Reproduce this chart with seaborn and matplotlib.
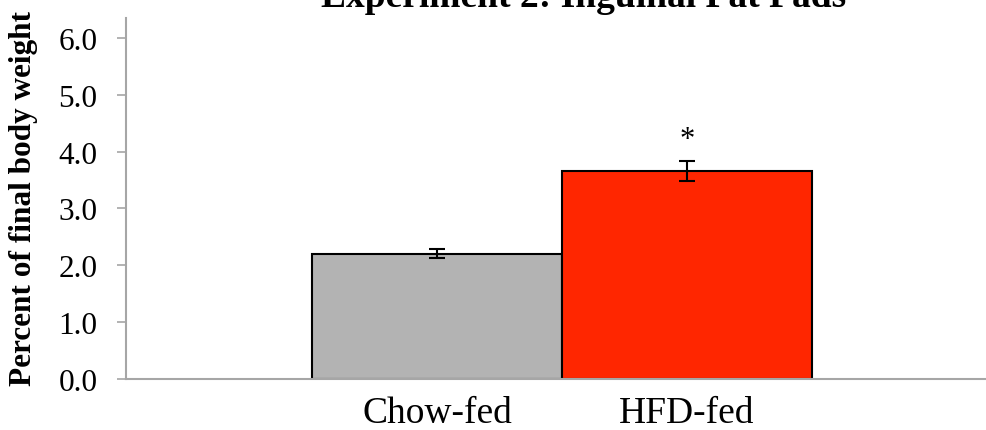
import matplotlib
matplotlib.use("Agg")
import matplotlib.pyplot as plt
import seaborn as sns

# data
groups = ["Chow-fed", "HFD-fed"]
means = [2.20, 3.66]
errors = [0.08, 0.17]
bar_colors = ["#b3b3b3", "#ff2600"]
star_labels = ["", "*"]
star_y = [0, 4.08]
yticks = [0, 1, 2, 3, 4, 5, 6]

sns.set_style("white")
plt.rcParams["font.family"] = ["Liberation Serif", "DejaVu Serif"]
plt.rcParams["text.color"] = "black"
plt.rcParams["axes.labelcolor"] = "black"
plt.rcParams["xtick.color"] = "black"
plt.rcParams["ytick.color"] = "black"

fig = plt.figure(figsize=(9.86, 4.31), dpi=100)
ax = fig.add_axes([0.1278, 0.1183, 0.8712, 0.8377])

sns.barplot(x=groups, y=means, hue=groups, palette=bar_colors, width=1.0,
            saturation=1, edgecolor="black", linewidth=1.5, legend=False, ax=ax)
ax.errorbar(x=range(len(groups)), y=means, yerr=errors, fmt="none",
            ecolor="black", elinewidth=1.5, capsize=6, capthick=1.5)

for i, (lab, yy) in enumerate(zip(star_labels, star_y)):
    if lab:
        ax.text(i, yy, lab, ha="center", va="baseline", fontsize=22)

ax.set_ylim(0, 6.35)
ax.set_xlim(-1.244, 2.192)
ax.set_yticks(yticks)
ax.set_yticklabels([f"{v:.1f}" for v in yticks], fontsize=22.5)
ax.tick_params(axis="y", direction="out", length=6.5, width=1.2,
               color="#a6a6a6", labelcolor="black", pad=14, left=True)
ax.tick_params(axis="x", length=0, labelsize=27, pad=12, labelcolor="black")
ax.set_ylabel("Percent of final body weight", fontsize=22.5,
              fontweight="bold")
ax.yaxis.set_label_coords(-0.103, 0.504)

for side in ["top", "right"]:
    ax.spines[side].set_visible(False)
for side in ["left", "bottom"]:
    ax.spines[side].set_color("#a6a6a6")
    ax.spines[side].set_linewidth(1.5)

fig.text(0.592, 0.984, "Experiment 2: Inguinal Fat Pads", ha="center",
         va="baseline", fontsize=27, fontweight="bold")

fig.savefig("out.png", dpi=100)
